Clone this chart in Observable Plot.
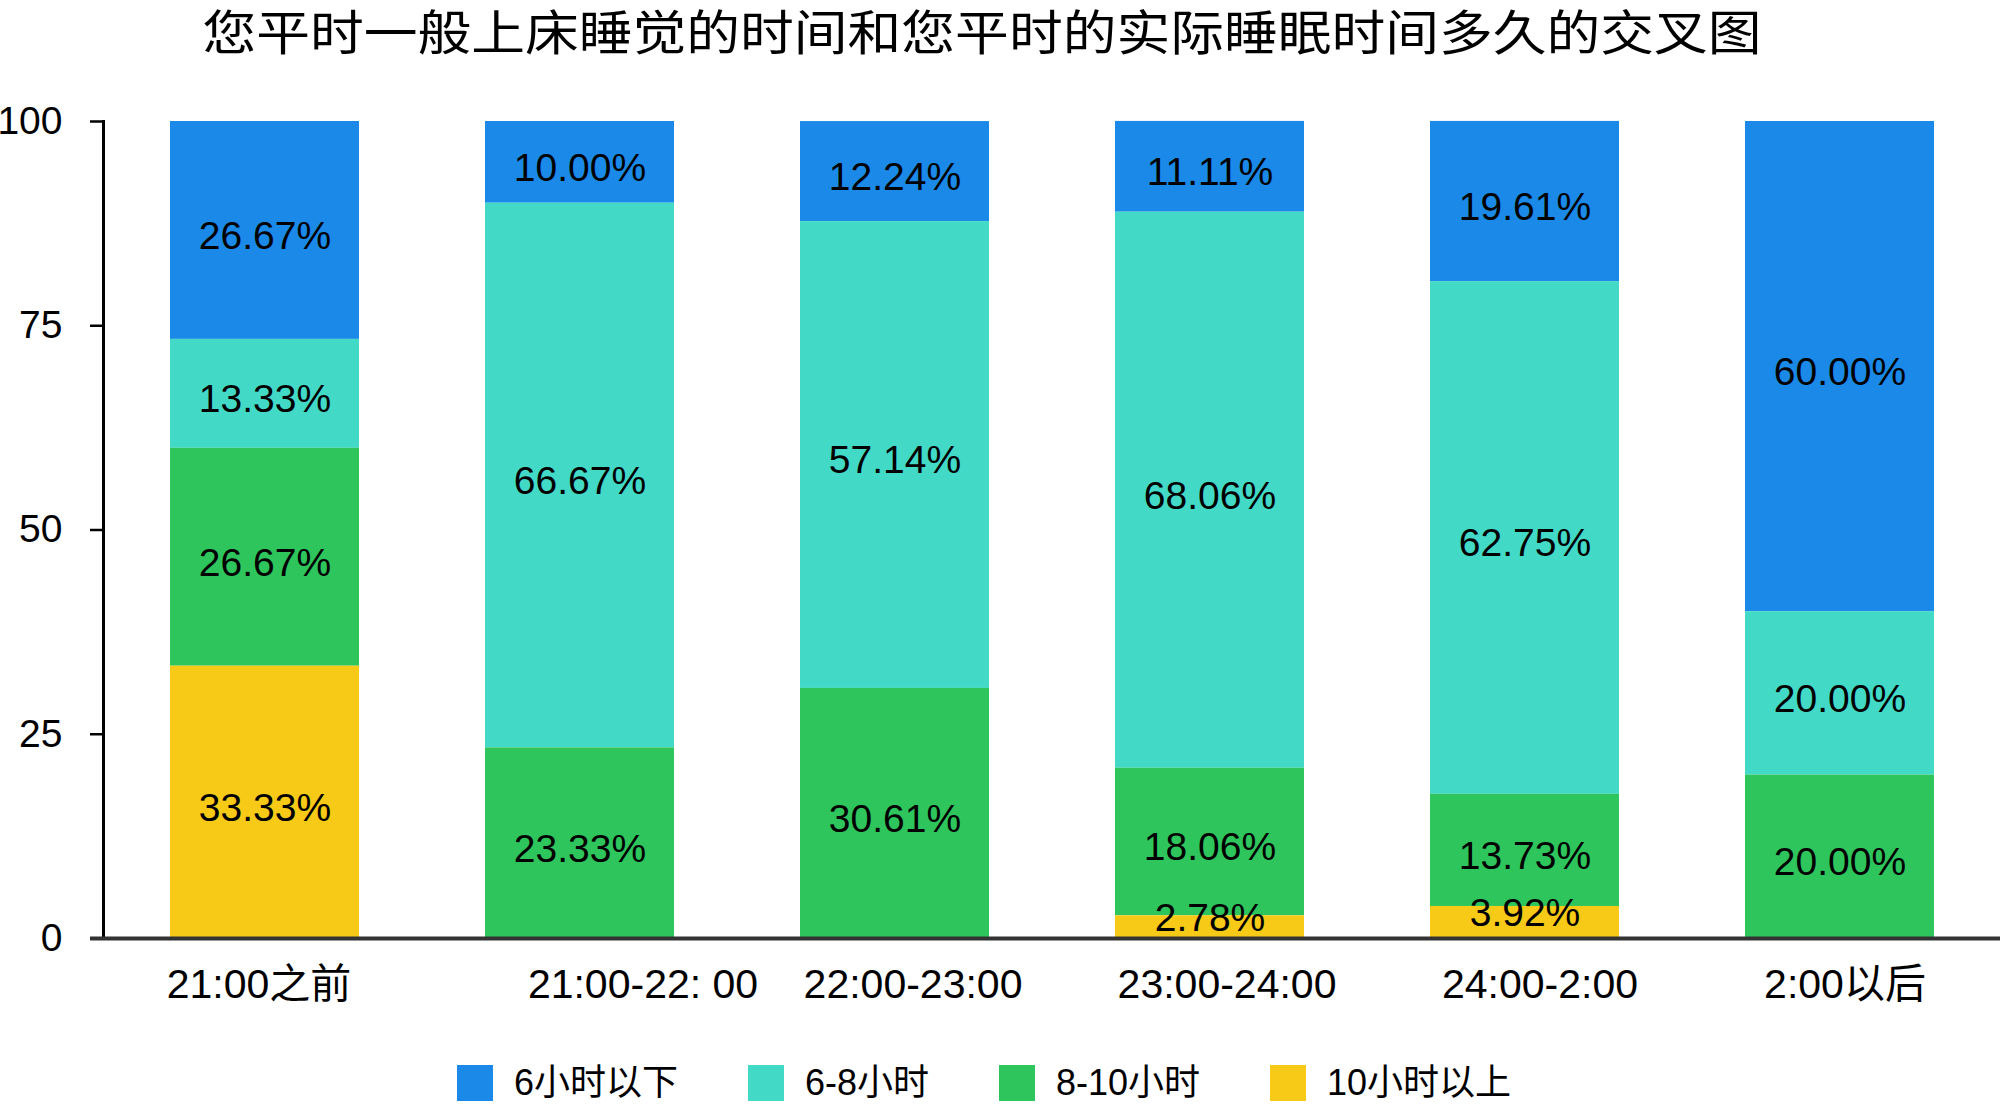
<!DOCTYPE html>
<html>
<head>
<meta charset="utf-8">
<script src="https://cdn.jsdelivr.net/npm/d3@7"></script>
<script src="https://cdn.jsdelivr.net/npm/@observablehq/plot@0.6"></script>
<style>
  html, body { margin: 0; padding: 0; background: #fff; }
  body { width: 2000px; height: 1106px; overflow: hidden; font-family: "Liberation Sans", "Noto Sans CJK SC", sans-serif; color: #000; }
  #title { height: 58px; display: flex; justify-content: center; align-items: center; padding-right: 36px; box-sizing: border-box; }
  #title span { display: inline-block; font-family: "Noto Sans CJK SC", sans-serif; font-weight: 400; font-size: 48px; line-height: 50px; transform: scaleX(1.12); white-space: nowrap; }
  #chart svg { display: block; overflow: visible; }
  #legend { height: 88px; display: flex; justify-content: center; align-items: flex-start; padding-top: 47px; padding-right: 32px; box-sizing: border-box; }
  .item { display: flex; align-items: center; margin: 0 35px; }
  .sw { width: 36px; height: 36px; margin-right: 21px; }
  .lab { font-size: 36px; line-height: 36px; font-family: "Liberation Sans", "Noto Sans CJK SC", sans-serif; }
</style>
</head>
<body>
<div id="title"><span></span></div>
<div id="chart"></div>
<div id="legend"></div>
<script>
const titleText = "您平时一般上床睡觉的时间和您平时的实际睡眠时间多久的交叉图";
const groups = ["21:00之前", "21:00-22: 00", "22:00-23:00", "23:00-24:00", "24:00-2:00", "2:00以后"];
const durations = ["6小时以下", "6-8小时", "8-10小时", "10小时以上"];
const colors = ["#1a89e8", "#42d9c7", "#2ec55c", "#f6ca16"];
const under6 = [26.67, 10.00, 12.24, 11.11, 19.61, 60.00];
const h6to8 = [13.33, 66.67, 57.14, 68.06, 62.75, 20.00];
const h8to10 = [26.67, 23.33, 30.61, 18.06, 13.73, 20.00];
const over10 = [33.33, 0, 0, 2.78, 3.92, 0];
const yTicks = [0, 25, 50, 75, 100];

document.querySelector("#title span").textContent = titleText;

const series = [under6, h6to8, h8to10, over10];
const rows = [];
groups.forEach((g, i) => durations.forEach((d, j) => rows.push({group: g, duration: d, value: series[j][i]})));
const stackOrder = [...durations].reverse();
const fmt = v => v.toFixed(2) + "%";

// horizontal nudges of the category labels, as placed in the original
const labelShift = [-6, 63, 18, 17, 15, 5];

const plot = Plot.plot({
  width: 2000,
  height: 960,
  marginTop: 63,
  marginBottom: 80,
  marginLeft: 103,
  marginRight: 0,
  style: {fontFamily: "'Liberation Sans', 'Noto Sans CJK SC', sans-serif", background: "#fff", color: "#000"},
  x: {domain: groups, paddingInner: 0.4, paddingOuter: 0.21, axis: null},
  y: {domain: [0, 100], axis: null},
  color: {domain: durations, range: colors},
  marks: [
    Plot.barY(rows, Plot.stackY({x: "group", y: "value", fill: "duration", order: stackOrder})),
    Plot.text(rows, Plot.stackY({x: "group", y: "value", z: "duration", order: stackOrder,
      text: d => d.value >= 5 ? fmt(d.value) : null, fontSize: 39, fill: "#000", dy: 6})),
    Plot.text(rows, Plot.stackY({x: "group", y: "value", z: "duration", order: stackOrder,
      text: d => d.value > 0 && d.value < 5 ? fmt(d.value) : null, fontSize: 39, fill: "#000", dy: -9})),
    Plot.axisY({ticks: yTicks, tickSize: 13, tickPadding: 28, fontSize: 39, strokeWidth: 2.5, label: null}),
    Plot.frame({anchor: "left", strokeWidth: 3}),
    Plot.ruleY([0], {stroke: "#333", strokeWidth: 4, insetLeft: -13}),
    ...groups.map((g, i) => Plot.text([g], {x: d => d, frameAnchor: "bottom", dy: 59, dx: labelShift[i],
      fontSize: 41, fill: "#000"}))
  ]
});
document.getElementById("chart").appendChild(plot);

const legend = document.getElementById("legend");
durations.forEach((d, i) => {
  const item = document.createElement("div");
  item.className = "item";
  const sw = document.createElement("div");
  sw.className = "sw";
  sw.style.background = plot.scale("color").apply(d);
  const lab = document.createElement("span");
  lab.className = "lab";
  lab.textContent = d;
  item.appendChild(sw);
  item.appendChild(lab);
  legend.appendChild(item);
});
</script>
</body>
</html>
